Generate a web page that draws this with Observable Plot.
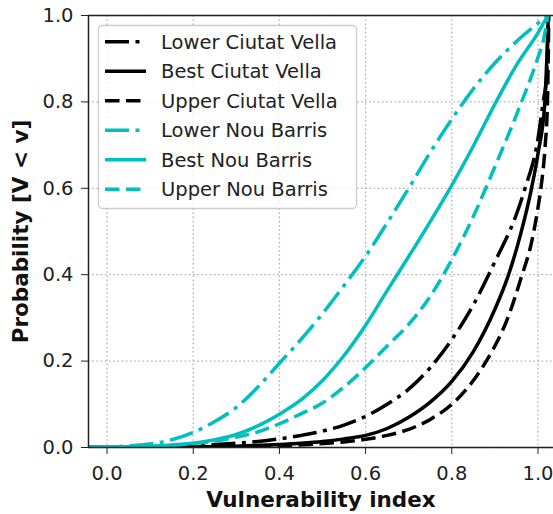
<!DOCTYPE html>
<html>
<head>
<meta charset="utf-8">
<script src="https://cdn.jsdelivr.net/npm/d3@7"></script>
<script src="https://cdn.jsdelivr.net/npm/@observablehq/plot@0.6"></script>
<style>
  body { margin: 0; background: #fff; }
  #chart { position: relative; width: 553px; height: 514px; }
</style>
</head>
<body>
<div id="chart"></div>
<script>
// Axis ticks and labels
const xTicks = [0, 0.2, 0.4, 0.6, 0.8, 1.0];
const yTicks = [0, 0.2, 0.4, 0.6, 0.8, 1.0];
const xLabel = "Vulnerability index";
const yLabel = "Probability [V < v]";
const xDomain = [-0.043, 1.036];

const seriesNames = [
  "Lower Ciutat Vella", "Best Ciutat Vella", "Upper Ciutat Vella",
  "Lower Nou Barris", "Best Nou Barris", "Upper Nou Barris"
];

// Cumulative distributions P[V < v] — Ciutat Vella
const lowerCVv = [-0.043, 0.1, 0.2, 0.3, 0.35, 0.4, 0.45, 0.5, 0.55, 0.6, 0.65, 0.7, 0.75, 0.8, 0.85, 0.9, 0.95, 0.97, 1.0, 1.012, 1.02, 1.024];
const lowerCVp = [0, 0.001, 0.004, 0.01, 0.014, 0.02, 0.028, 0.038, 0.052, 0.072, 0.1, 0.135, 0.185, 0.25, 0.33, 0.43, 0.54, 0.6, 0.715, 0.8, 0.86, 1.0];

const bestCVv = [-0.043, 0.2, 0.3, 0.4, 0.45, 0.5, 0.55, 0.6, 0.65, 0.7, 0.75, 0.8, 0.85, 0.9, 0.93, 0.96, 0.985, 1.0, 1.016, 1.024];
const bestCVp = [0, 0.001, 0.003, 0.007, 0.01, 0.014, 0.02, 0.028, 0.044, 0.07, 0.105, 0.153, 0.222, 0.32, 0.395, 0.495, 0.6, 0.68, 0.8, 1.0];

const upperCVv = [-0.043, 0.3, 0.4, 0.5, 0.55, 0.6, 0.65, 0.7, 0.75, 0.8, 0.85, 0.88, 0.9, 0.93, 0.96, 0.985, 1.0, 1.008, 1.016, 1.022, 1.025];
const upperCVp = [0, 0.002, 0.004, 0.009, 0.013, 0.019, 0.028, 0.042, 0.065, 0.1, 0.155, 0.2, 0.235, 0.3, 0.39, 0.475, 0.555, 0.61, 0.69, 0.8, 1.0];

// Cumulative distributions P[V < v] — Nou Barris
const lowerNBv = [-0.043, 0.0, 0.05, 0.1, 0.15, 0.2, 0.25, 0.3, 0.35, 0.4, 0.45, 0.5, 0.55, 0.6, 0.65, 0.7, 0.75, 0.8, 0.85, 0.9, 0.95, 1.0, 1.023];
const lowerNBp = [0, 0.001, 0.004, 0.008, 0.018, 0.035, 0.06, 0.093, 0.14, 0.195, 0.25, 0.31, 0.375, 0.443, 0.52, 0.6, 0.683, 0.76, 0.83, 0.89, 0.94, 0.982, 1.0];

const bestNBv = [-0.043, 0.0, 0.05, 0.1, 0.15, 0.2, 0.25, 0.3, 0.35, 0.4, 0.45, 0.5, 0.55, 0.6, 0.65, 0.7, 0.75, 0.8, 0.85, 0.9, 0.95, 1.0, 1.023];
const bestNBp = [0, 0, 0.001, 0.003, 0.006, 0.01, 0.018, 0.03, 0.05, 0.077, 0.11, 0.155, 0.213, 0.283, 0.363, 0.442, 0.523, 0.607, 0.698, 0.795, 0.885, 0.96, 1.0];

const upperNBv = [-0.043, 0.05, 0.1, 0.15, 0.2, 0.25, 0.3, 0.35, 0.4, 0.45, 0.5, 0.55, 0.6, 0.65, 0.7, 0.75, 0.8, 0.85, 0.9, 0.95, 1.0, 1.012, 1.023];
const upperNBp = [0, 0.001, 0.002, 0.005, 0.009, 0.015, 0.024, 0.036, 0.055, 0.078, 0.103, 0.14, 0.185, 0.235, 0.285, 0.35, 0.435, 0.535, 0.65, 0.77, 0.903, 0.94, 1.0];

const seriesValues = [
  [lowerCVv, lowerCVp], [bestCVv, bestCVp], [upperCVv, upperCVp],
  [lowerNBv, lowerNBp], [bestNBv, bestNBp], [upperNBv, upperNBp]
];

// Line styling per series
const CYAN = "#00bfbf";
const DASHES = { dashdot: "24,6.5,4,6.5", solid: null, dashed: "14.5,6.5" };
const styleOf = (i) => ({
  stroke: i < 3 ? "black" : CYAN,
  dash: DASHES[["dashdot", "solid", "dashed"][i % 3]]
});

const rows = seriesNames.map((name, i) =>
  seriesValues[i][0].map((v, j) => ({ series: name, v, p: seriesValues[i][1][j] }))
);

const gridStyle = { stroke: "#b0b0b0", strokeOpacity: 1, strokeWidth: 1.3, strokeDasharray: "1.6,2.6" };
const fmt = d3.format(".1f");

const plot = Plot.plot({
  width: 553,
  height: 514,
  marginLeft: 88,
  marginRight: 0,
  marginTop: 15,
  marginBottom: 67,
  style: { fontFamily: "'DejaVu Sans', sans-serif", fontSize: "20px", color: "#222", background: "white" },
  x: { domain: xDomain },
  y: { domain: [0, 1] },
  marks: [
    Plot.gridX(xTicks, gridStyle),
    Plot.gridY(yTicks, gridStyle),
    ...rows.map((data, i) => Plot.line(data, {
      x: "v", y: "p",
      stroke: styleOf(i).stroke,
      strokeWidth: 3.5,
      strokeDasharray: styleOf(i).dash,
      strokeLinecap: "butt",
      curve: "monotone-x",
      clip: true
    })),
    Plot.ruleX([xDomain[0]], { stroke: "#222", strokeWidth: 1.5 }),
    Plot.ruleY([0, 1], { stroke: "#222", strokeWidth: 1.5 }),
    Plot.axisX(xTicks, { tickFormat: fmt, tickSize: 7, tickPadding: 12, label: null, fontSize: 19.5, stroke: "#222" }),
    Plot.axisY(yTicks, { tickFormat: fmt, tickSize: 7, tickPadding: 8, label: null, fontSize: 19.5, stroke: "#222" }),
    Plot.text([xLabel], { frameAnchor: "bottom", dy: 53, textAnchor: "middle", lineAnchor: "middle", fontWeight: "bold", fontSize: 21.5, fill: "#111" }),
    Plot.text([yLabel], { frameAnchor: "left", dx: -67, rotate: -90, textAnchor: "middle", lineAnchor: "middle", fontWeight: "bold", fontSize: 21.5, fill: "#111" })
  ]
});

document.getElementById("chart").appendChild(plot);

// Legend box in the upper-left corner of the axes
const svg = d3.select(plot);
const lg = svg.append("g").attr("class", "legend");
lg.append("rect")
  .attr("x", 98.5).attr("y", 25.5)
  .attr("width", 258).attr("height", 183)
  .attr("rx", 4)
  .attr("fill", "white").attr("fill-opacity", 0.8)
  .attr("stroke", "#cccccc").attr("stroke-width", 1.3);
seriesNames.forEach((name, i) => {
  const cy = 41.7 + i * 29.5;
  const s = styleOf(i);
  lg.append("line")
    .attr("x1", 105).attr("x2", 146)
    .attr("y1", cy).attr("y2", cy)
    .attr("stroke", s.stroke).attr("stroke-width", 3.5)
    .attr("stroke-dasharray", s.dash)
    .attr("stroke-linecap", "butt");
  lg.append("text")
    .attr("x", 161).attr("y", cy).attr("dy", "0.36em")
    .attr("text-anchor", "start")
    .attr("font-size", 19.5).attr("fill", "#222")
    .text(name);
});
</script>
</body>
</html>
